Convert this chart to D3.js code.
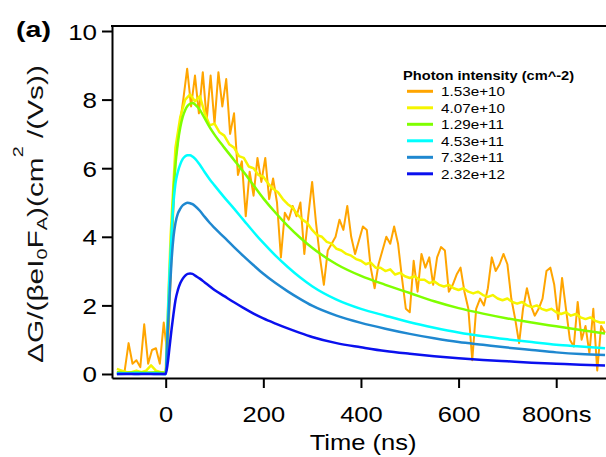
<!DOCTYPE html>
<html><head><meta charset="utf-8">
<script src="https://cdn.jsdelivr.net/npm/d3@7/dist/d3.min.js"></script>
<style>body{margin:0;background:#fff}svg{display:block}</style>
</head><body><svg id="c" width="606" height="457"></svg>
<script>
// ---------- data ----------
const seriesLabels = ["1.53e+10","4.07e+10","1.29e+11","4.53e+11","7.32e+11","2.32e+12"];
const seriesColors = ["#ffa500","#f5f500","#7fff00","#00ffff","#1f88d0","#0a10ee"];
const legendTitle = "Photon intensity (cm^-2)";
const xTicks = [0,200,400,600,800];
const yTicks = [0,2,4,6,8,10];

// shared time grid (ns) for the smooth curves
const tSmooth = [-100,-80,-60,-40,-20,0,4,8,12,16,20,25,30,35,40,45,50,55,60,70,80,90,100,120,140,160,180,200,225,250,275,300,350,400,450,500,550,600,650,700,750,800,850,900];
const green = [0.05,0.03,0.05,0.04,0.05,0.03,1.2,2.6,4.0,5.3,6.1,6.75,7.2,7.5,7.7,7.82,7.88,7.9,7.86,7.7,7.45,7.2,6.98,6.6,6.24,5.88,5.5,5.12,4.7,4.32,3.98,3.68,3.2,2.86,2.6,2.36,2.12,1.92,1.76,1.62,1.5,1.39,1.28,1.18];
const cyan  = [0.02,0.02,0.03,0.02,0.02,0.0,1.5,3.0,4.1,5.0,5.55,5.9,6.12,6.27,6.35,6.38,6.38,6.34,6.28,6.1,5.88,5.68,5.5,5.15,4.82,4.48,4.14,3.82,3.45,3.12,2.82,2.56,2.17,1.9,1.7,1.51,1.35,1.21,1.1,1.01,0.93,0.85,0.8,0.75];
const steel = [0.0,0.01,0.0,0.01,0.0,0.0,1.2,2.3,3.3,4.0,4.4,4.68,4.82,4.92,4.97,4.99,4.98,4.95,4.9,4.76,4.58,4.41,4.26,3.98,3.7,3.43,3.17,2.92,2.65,2.41,2.19,1.99,1.7,1.49,1.32,1.17,1.04,0.93,0.85,0.77,0.7,0.63,0.58,0.55];
const blue  = [0.0,0.0,0.0,0.0,0.0,0.0,0.3,0.8,1.3,1.75,2.15,2.45,2.65,2.78,2.87,2.92,2.93,2.92,2.87,2.78,2.67,2.56,2.45,2.27,2.09,1.92,1.76,1.62,1.47,1.33,1.2,1.08,0.9,0.78,0.67,0.59,0.52,0.46,0.41,0.37,0.33,0.3,0.27,0.25];

// yellow: sampled every 10 ns from -100 ns
const yellowStart = -100, yellowStep = 10;
const yellow = [0.15,0.1,0.05,0.05,0.1,0.05,0.1,0.25,0.1,0.05,0.05,
  4.0,6.6,7.5,8.0,8.15,7.95,8.1,7.6,7.25,
  7.3,7.05,6.95,6.7,6.6,6.35,6.3,6.05,6.0,5.8,
  5.75,5.55,5.4,5.3,5.1,4.95,4.85,4.65,4.5,4.4,
  4.2,4.05,4.0,3.85,3.8,3.65,3.6,3.5,3.45,3.35,
  3.3,3.2,3.25,3.1,3.1,3.0,3.05,2.9,2.95,2.85,
  2.8,2.85,2.75,2.75,2.65,2.7,2.6,2.55,2.6,2.5,
  2.45,2.5,2.4,2.35,2.4,2.3,2.25,2.3,2.2,2.15,
  2.2,2.1,2.05,2.1,2.0,1.95,2.0,1.9,1.85,1.9,
  1.8,1.75,1.8,1.7,1.75,1.65,1.6,1.65,1.55,1.5,
  1.5];

// orange: sampled every 8 ns from -100 ns
const orangeStart = -100, orangeStep = 8;
const orange = [0.05,0.05,0.1,0.9,0.3,0.4,0.2,1.45,0.3,0.7,0.75,0.3,1.5,
  0.5,3.5,6.2,7.2,8.0,8.9,7.8,8.7,7.6,8.8,7.4,8.7,7.3,8.8,7.8,8.6,7.0,7.6,5.8,6.2,4.6,5.9,5.2,6.3,
  5.6,
  6.3,5.1,5.7,5.0,3.4,4.7,4.5,4.9,4.6,5.0,3.5,4.6,5.6,
  4.4,3.4,2.6,3.6,3.8,4.0,4.5,4.2,4.9,4.0,3.5,3.9,4.3,
  4.2,3.1,2.5,3.2,3.6,4.0,3.8,4.3,3.8,2.8,1.9,1.8,
  3.3,2.4,3.5,3.1,3.4,2.6,3.4,3.7,3.6,2.4,2.6,2.9,3.1,
  2.4,1.9,0.4,1.9,2.2,2.0,2.5,3.4,3.0,3.2,3.5,3.2,
  2.2,1.6,0.9,1.9,2.5,2.0,1.7,1.9,2.2,3.0,3.1,2.6,1.6,
  2.8,1.9,1.0,0.8,2.1,1.0,1.4,0.6,1.9,0.1,1.4,1.2];

// ---------- layout ----------
const FONT = "'Liberation Sans', Arial, Helvetica, sans-serif";
const svg = d3.select("#c");
const L = 112, R = 606, T = 26, B = 378;
const x = d3.scaleLinear().domain([-110, 902]).range([L, R]);
const y = d3.scaleLinear().domain([-0.117, 10.146]).range([B, T]);

const series = [
  {pts: orange.map((v,i)=>[orangeStart+i*orangeStep, v]), curve: d3.curveLinear, w: 2},
  {pts: yellow.map((v,i)=>[yellowStart+i*yellowStep, v]), curve: d3.curveLinear, w: 2.5},
  {pts: green.map((v,i)=>[tSmooth[i], v]), curve: d3.curveMonotoneX, w: 2.5},
  {pts: cyan.map((v,i)=>[tSmooth[i], v]), curve: d3.curveMonotoneX, w: 2.5},
  {pts: steel.map((v,i)=>[tSmooth[i], v]), curve: d3.curveMonotoneX, w: 2.5},
  {pts: blue.map((v,i)=>[tSmooth[i], v]), curve: d3.curveMonotoneX, w: 2.5}
];

svg.append("defs").append("clipPath").attr("id","clip")
  .append("rect").attr("x",L).attr("y",T).attr("width",R-L).attr("height",B-T);

const plot = svg.append("g").attr("clip-path","url(#clip)");
series.forEach((s,i)=>{
  const line = d3.line().x(d=>x(d[0])).y(d=>y(d[1])).curve(s.curve);
  plot.append("path").attr("d", line(s.pts)).attr("fill","none")
    .attr("stroke", seriesColors[i]).attr("stroke-width", s.w)
    .attr("stroke-linejoin","round");
});

// axes
const yAxis = svg.append("g").attr("transform",`translate(${L},0)`)
  .call(d3.axisLeft(y).tickValues(yTicks).tickSize(10).tickSizeOuter(0).tickFormat(d3.format("d")));
yAxis.selectAll("text").attr("x",0).attr("dy",null).attr("y",8)
  .attr("text-anchor","end").attr("transform","translate(-15,0) scale(1.18,1)");

const xAxis = svg.append("g").attr("transform",`translate(0,${B})`)
  .call(d3.axisBottom(x).tickValues(xTicks).tickSize(10).tickSizeOuter(0)
    .tickFormat(d => d===800 ? "800ns" : String(d)));
xAxis.selectAll("text").attr("y",0).attr("dy",null)
  .attr("transform","translate(0,43.5) scale(1.16,1)");

[yAxis, xAxis].forEach(g=>{
  g.selectAll("path,line").attr("stroke","#000").attr("stroke-width",2);
  g.selectAll("text").attr("font-family",FONT).attr("font-size",22).attr("fill","#000");
});
svg.append("line").attr("x1",L-1).attr("x2",R).attr("y1",T).attr("y2",T)
  .attr("stroke","#000").attr("stroke-width",2);

// axis titles
svg.append("text").attr("font-family",FONT).attr("font-size",22).attr("text-anchor","middle")
  .attr("transform","translate(363,450) scale(1.16,1)").text("Time (ns)");

const yl = svg.append("text").attr("font-family",FONT).attr("font-size",22.5)
  .attr("text-anchor","middle").attr("fill","#111");
yl.append("tspan").text("ΔG/(βeI");
yl.append("tspan").attr("font-size",15).attr("dy",4).text("0");
yl.append("tspan").attr("dy",-4).text("F");
yl.append("tspan").attr("font-size",15).attr("dy",4).text("A");
yl.append("tspan").attr("dy",-4).text(")(cm");
yl.append("tspan").attr("font-size",15).attr("dy",-20).text("2");
yl.append("tspan").attr("dy",20).text(" /(Vs))");
const yLen = yl.node().getComputedTextLength();
const ySx = 298 / yLen;
yl.attr("transform",`translate(43,214) rotate(-90) scale(${ySx},1)`);

// panel label
svg.append("text").attr("font-family",FONT).attr("font-size",22).attr("font-weight","bold")
  .attr("transform","translate(16,37) scale(1.3,1)").text("(a)");

// legend
const lg = svg.append("g");
lg.append("text").attr("font-family",FONT).attr("font-size",12).attr("font-weight","bold")
  .attr("transform","translate(403,80) scale(1.22,1)").text(legendTitle);
const rowY = [91.3,107.8,124.3,140.8,157.3,173.8];
seriesLabels.forEach((lab,i)=>{
  lg.append("line").attr("x1",407).attr("x2",433).attr("y1",rowY[i]).attr("y2",rowY[i])
    .attr("stroke",seriesColors[i]).attr("stroke-width",3);
  lg.append("text").attr("font-family",FONT).attr("font-size",12.5)
    .attr("transform",`translate(441,${rowY[i]+5}) scale(1.22,1)`).text(lab);
});
</script></body></html>
